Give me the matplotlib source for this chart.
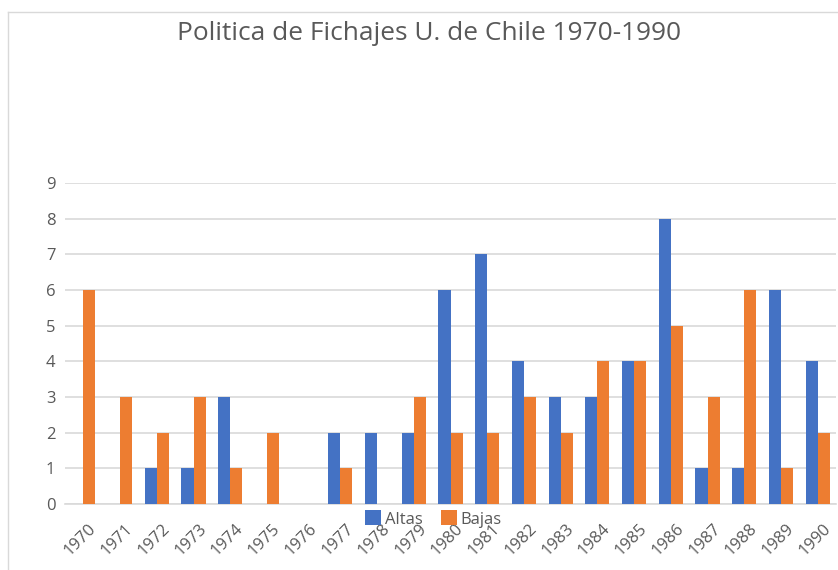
import matplotlib
matplotlib.use("Agg")
import matplotlib.pyplot as plt
import matplotlib.transforms as mtransforms
from matplotlib.lines import Line2D
import numpy as np

years = [str(y) for y in range(1970, 1991)]
altas = [0, 0, 1, 1, 3, 0, 0, 2, 2, 2, 6, 7, 4, 3, 3, 4, 8, 1, 1, 6, 4]
bajas = [6, 3, 2, 3, 1, 2, 0, 1, 0, 3, 2, 2, 3, 2, 4, 4, 5, 3, 6, 1, 2]

blue = '#4472C4'
orange = '#ED7D31'
text_gray = '#595959'
grid_gray = '#D9D9D9'

plt.rcParams['font.family'] = ['Open Sans', 'DejaVu Sans']

W, H = 838, 570
fig = plt.figure(figsize=(W / 100, H / 100), dpi=100)
ax = fig.add_axes([65 / W, 1 - 504 / H, (836 - 65) / W, (504 - 183) / H])

x = np.arange(len(years))
bw = 0.33
ax.bar(x - bw / 2, altas, bw, color=blue, label='Altas', zorder=3)
ax.bar(x + bw / 2, bajas, bw, color=orange, label='Bajas', zorder=3)

ax.set_xlim(-0.5, len(years) - 0.5)
ax.set_ylim(0, 9)
ax.set_yticks(range(0, 10))
ax.yaxis.grid(True, color=grid_gray, linewidth=1.2, zorder=0)
ax.set_axisbelow(True)
for s in ['top', 'right', 'left']:
    ax.spines[s].set_visible(False)
ax.spines['bottom'].set_color(grid_gray)
ax.spines['bottom'].set_linewidth(1.2)
ax.tick_params(axis='both', length=0, colors=text_gray, labelsize=12)
ax.tick_params(axis='y', pad=7)

ax.set_xticks(x)
ax.set_xticklabels(years, rotation=45, ha='right', rotation_mode='anchor')
ax.tick_params(axis='x', pad=12)
offset = mtransforms.ScaledTranslation(5 / 100, 0, fig.dpi_scale_trans)
for lbl in ax.get_xticklabels():
    lbl.set_transform(lbl.get_transform() + offset)

fig.text(0.512, 1 - 33 / H, 'Politica de Fichajes U. de Chile 1970-1990',
         ha='center', va='center', fontsize=18.9, color=text_gray)

leg = fig.legend(loc='center', bbox_to_anchor=(0.517, 1 - 519 / H), ncol=2,
                 frameon=False, fontsize=12, handlelength=1.0, handleheight=1.0,
                 handletextpad=0.2, columnspacing=1.1)
for t in leg.get_texts():
    t.set_color(text_gray)

# outer chart frame (partly cropped in the screenshot)
fig.add_artist(Line2D([8 / W, 1], [1 - 12 / H, 1 - 12 / H], color=grid_gray, linewidth=1))
fig.add_artist(Line2D([8 / W, 8 / W], [0, 1 - 12 / H], color=grid_gray, linewidth=1))

fig.savefig('out.png', dpi=100)
